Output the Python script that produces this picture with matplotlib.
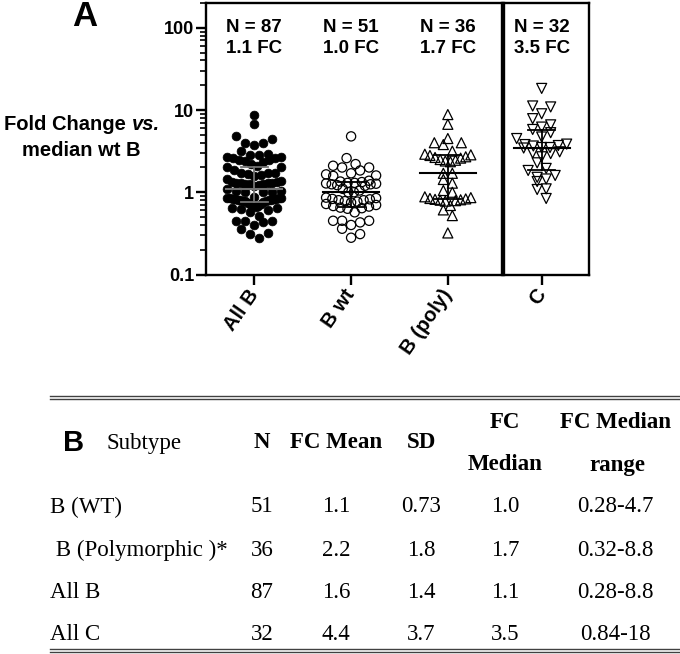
import numpy as np
import matplotlib
matplotlib.use('Agg')
import matplotlib.pyplot as plt
from matplotlib.lines import Line2D

# fold change vs. median wt B
b_wt = [4.78, 2.6, 2.2, 2.1, 2.0, 1.84, 2.0,
        1.7, 1.65, 1.6, 1.58,
        1.38, 1.35, 1.33, 1.3, 1.3, 1.28, 1.27, 1.25, 1.25, 1.22, 1.2,
        1.1, 1.05, 1.0, 1.0,
        0.86, 0.85, 0.83, 0.82, 0.8, 0.8, 0.78, 0.77, 0.75,
        0.72, 0.7, 0.68, 0.67, 0.65, 0.64, 0.63,
        0.57, 0.45, 0.43, 0.40, 0.45, 0.45, 0.36, 0.28, 0.31]
b_poly = [8.8, 6.7, 4.5, 4.0, 3.8, 4.0, 3.16,
          2.9, 2.85, 2.8, 2.7, 2.65, 2.6, 2.5, 2.45, 2.4, 2.35,
          1.7, 1.7,
          1.43, 1.29, 1.05, 1.0,
          0.88, 0.86, 0.84, 0.83, 0.82, 0.81, 0.8, 0.79, 0.78,
          0.69, 0.61, 0.52, 0.32]
all_c = [18.3, 11.2, 10.9, 9.0, 7.85, 6.2, 6.6, 5.8, 5.3, 4.7, 4.5,
         3.85, 3.8, 3.7, 3.65, 3.5, 3.5, 3.45,
         3.1, 2.95, 3.0, 2.7, 2.28, 1.95, 1.84,
         1.6, 1.45, 1.35, 1.52, 1.1, 1.08, 0.84]
all_b = b_wt + b_poly

labels_b = ['All B', 'B wt', 'B (poly)']
label_c = ['C']
n_text = ['N = 87', 'N = 51', 'N = 36', 'N = 32']
fc_text = ['1.1 FC', '1.0 FC', '1.7 FC', '3.5 FC']
yticks = [0.1, 1, 10, 100]
ytick_labels = ['0.1', '1', '10', '100']

# table B
tab_header = ['N', 'FC Mean', 'SD']
subtypes = ['B (WT)', ' B (Polymorphic )*', 'All B', 'All C']
tab_n = ['51', '36', '87', '32']
tab_mean = ['1.1', '2.2', '1.6', '4.4']
tab_sd = ['0.73', '1.8', '1.4', '3.7']
tab_median = ['1.0', '1.7', '1.1', '3.5']
tab_range = ['0.28-4.7', '0.32-8.8', '0.28-8.8', '0.84-18']

SANS = 'Liberation Sans'
SERIF = 'Liberation Serif'
W, H = 680, 654


def fx(px):
    return px / W


def fy(py):
    return 1 - py / H


def rows_layout(ax, vals, row_h=9, step_max=9, width_max=50):
    # prism-like scatter: bin into rows, lowest value in the middle
    v = np.sort(np.asarray(vals, dtype=float))
    ypix = ax.transData.transform(np.column_stack([np.zeros_like(v), v]))[:, 1]
    ppu = ax.transData.transform((1, 1))[0] - ax.transData.transform((0, 1))[0]
    xs = np.zeros_like(v)
    start = 0
    for i in range(1, len(v) + 1):
        if i == len(v) or ypix[i] - ypix[start] > row_h:
            k = i - start
            step = step_max if k < 2 else min(step_max, width_max / (k - 1))
            slots = (np.arange(k) - (k - 1) / 2) * step
            order = sorted(range(k), key=lambda j: (abs(slots[j]), slots[j] < 0))
            for m, j in enumerate(order):
                xs[start + m] = slots[j] / ppu
            start = i
    return xs, v


fig = plt.figure(figsize=(6.8, 6.54), dpi=100)
ax1 = fig.add_axes([fx(206), fy(274.5), fx(502) - fx(206), fy(3) - fy(274.5)])
ax2 = fig.add_axes([fx(504), fy(274.5), fx(589) - fx(504), fy(3) - fy(274.5)])

for ax in (ax1, ax2):
    ax.set_yscale('log')
    ax.set_ylim(0.1, 200)
    for s in ax.spines.values():
        s.set_linewidth(1.7)
    ax.tick_params(axis='x', direction='out', length=7, width=1.7, pad=5)
ax1.set_xlim(-0.5, 2.56)
ax2.set_xlim(-0.39, 0.49)

ax1.set_yticks(yticks)
ax1.set_yticklabels(ytick_labels, fontsize=13, fontweight='bold', family=SANS)
ax1.tick_params(axis='y', which='major', direction='out', length=7, width=1.7, pad=1.5)
ax1.tick_params(axis='y', which='minor', direction='out', length=4, width=1.2)
ax2.tick_params(axis='y', which='both', left=False, labelleft=False)

ax1.set_xticks([0, 1, 2])
ax1.set_xticklabels(labels_b, rotation=55, ha='right', va='center',
                    rotation_mode='anchor', fontsize=14.5, fontweight='bold', family=SANS)
ax2.set_xticks([0])
ax2.set_xticklabels(label_c, rotation=55, ha='right', va='center',
                    rotation_mode='anchor', fontsize=14.5, fontweight='bold', family=SANS)

groups = [
    (ax1, 0, all_b, dict(marker='o', s=40, c='black', edgecolors='black', linewidths=0.5), 54, '0.45'),
    (ax1, 1, b_wt, dict(marker='o', s=44, facecolors='none', edgecolors='black', linewidths=0.9), 50, 'black'),
    (ax1, 2, b_poly, dict(marker='^', s=52, facecolors='none', edgecolors='black', linewidths=0.9), 46, 'black'),
    (ax2, 0, all_c, dict(marker='v', s=52, facecolors='none', edgecolors='black', linewidths=0.9), 50, 'black'),
]

for i, (ax, xc, vals, style, wmax, lcol) in enumerate(groups):
    xs, v = rows_layout(ax, vals, width_max=wmax)
    ax.scatter(xc + xs, v, zorder=2, **style)
    q1, med, q3 = np.percentile(vals, [25, 50, 75], method='weibull')
    ax.plot([xc - 0.29, xc + 0.29], [med, med], color=lcol, lw=1.5, zorder=3)
    ax.plot([xc - 0.14, xc + 0.14], [q1, q1], color=lcol, lw=1.3, zorder=3)
    ax.plot([xc - 0.14, xc + 0.14], [q3, q3], color=lcol, lw=1.3, zorder=3)
    ax.plot([xc, xc], [q1, q3], color=lcol, lw=1.3, zorder=3)
    ax.text(xc, 100, n_text[i], ha='center', va='center', fontsize=13.5,
            fontweight='bold', family=SANS)
    ax.text(xc, 56, fc_text[i], ha='center', va='center', fontsize=13.5,
            fontweight='bold', family=SANS)

# panel letters and y label
fig.text(fx(85), fy(17), 'A', ha='center', va='center', fontsize=25,
         fontweight='bold', family=SANS)
renderer = fig.canvas.get_renderer()
t1 = fig.text(0, fy(125), 'Fold Change ', ha='left', va='center', fontsize=14.5,
              fontweight='bold', family=SANS)
t2 = fig.text(0, fy(125), 'vs.', ha='left', va='center', fontsize=14.5,
              fontweight='bold', style='italic', family=SANS)
w1 = t1.get_window_extent(renderer).width
w2 = t2.get_window_extent(renderer).width
x0 = 82 - (w1 + w2) / 2
t1.set_x(fx(x0))
t2.set_x(fx(x0 + w1))
fig.text(fx(81), fy(150), 'median wt B', ha='center', va='center', fontsize=14.5,
         fontweight='bold', family=SANS)

# table
for y in (396, 398.5, 649, 651.5):
    fig.add_artist(Line2D([fx(50), fx(680)], [fy(y), fy(y)], color='0.25', lw=1.0))

fig.text(fx(74), fy(443), 'B', ha='center', va='center', fontsize=21,
         fontweight='bold', family=SANS)
fig.text(fx(106), fy(443), 'Subtype', ha='left', va='center', fontsize=16.5, family=SERIF)
col_x = [262, 336, 421, 505, 615]
for cx, h in zip(col_x[:3], tab_header):
    fig.text(fx(cx), fy(443), h, ha='center', va='center', fontsize=16.5,
             fontweight='bold', family=SERIF)
fig.text(fx(col_x[3]), fy(423), 'FC', ha='center', va='center', fontsize=16.5,
         fontweight='bold', family=SERIF)
fig.text(fx(col_x[3]), fy(465), 'Median', ha='center', va='center', fontsize=16.5,
         fontweight='bold', family=SERIF)
fig.text(fx(col_x[4]), fy(423), 'FC Median', ha='center', va='center', fontsize=16.5,
         fontweight='bold', family=SERIF)
fig.text(fx(col_x[4] + 2), fy(465), 'range', ha='center', va='center', fontsize=16.5,
         fontweight='bold', family=SERIF)

row_y = [507, 550, 592, 635]
for r, ry in enumerate(row_y):
    fig.text(fx(50), fy(ry), subtypes[r], ha='left', va='center', fontsize=16.5, family=SERIF)
    cells = [tab_n[r], tab_mean[r], tab_sd[r], tab_median[r], tab_range[r]]
    for cx, c in zip(col_x, cells):
        fig.text(fx(cx), fy(ry), c, ha='center', va='center', fontsize=16.5, family=SERIF)

fig.savefig('out.png', dpi=100)
